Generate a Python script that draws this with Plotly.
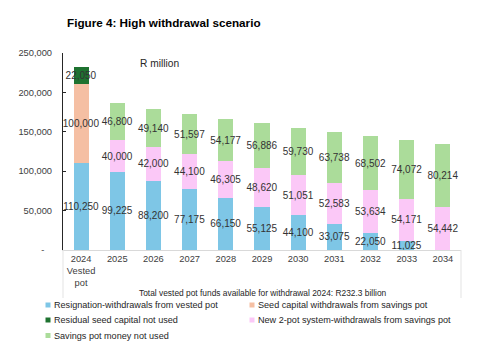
import plotly.graph_objects as go

categories = ["2024<br>Vested<br>pot", "2025", "2026", "2027", "2028", "2029",
              "2030", "2031", "2032", "2033", "2034"]

resignation = [110250, 99225, 88200, 77175, 66150, 55125, 44100, 33075, 22050, 11025, 0]
seed_capital = [100000, None, None, None, None, None, None, None, None, None, None]
residual_seed = [22050, None, None, None, None, None, None, None, None, None, None]
new_two_pot = [None, 40000, 42000, 44100, 46305, 48620, 51051, 52583, 53634, 54171, 54442]
savings_unused = [None, 46800, 49140, 51597, 54177, 56886, 59730, 63738, 68502, 74072, 80214]

y_tickvals = [0, 50000, 100000, 150000, 200000, 250000]
y_ticktext = ["-\u00a0\u00a0\u00a0", "50,000", "100,000", "150,000", "200,000", "250,000"]

series_names = [
    "Resignation-withdrawals from vested pot",
    "Seed capital withdrawals from savings pot",
    "Residual seed capital not used",
    "New 2-pot system-withdrawals from savings pot",
    "Savings pot money not used",
]
series_values = [resignation, seed_capital, residual_seed, new_two_pot, savings_unused]
series_colors = ["#7ec6e6", "#f5bfa3", "#1e7230", "#fbc8f7", "#abdc9a"]

FONT = "Liberation Sans, Arial, sans-serif"

# page offset (default body margin) and target geometry in window pixels
OFF = 8
WIN_W, WIN_H = 484, 361
W, H = WIN_W - OFF, WIN_H - OFF
L, R, T, B = 63, 461, 53, 250   # plot area in window pixels


def px_x(px):
    return (px - L) / (R - L)


def px_y(py):
    return (B - py) / (B - T)


def cx(px):
    return (px - OFF) / W


def cy(py):
    return 1 - (py - OFF) / H


fig = go.Figure()
for name, vals, color in zip(series_names, series_values, series_colors):
    labels = ["" if v is None else (f"{v:,}" if v else "-") for v in vals]
    fig.add_trace(go.Bar(
        name=name, x=categories, y=vals, marker_color=color, marker_line_width=0,
        text=labels, textposition="inside", insidetextanchor="middle",
        textangle=0, constraintext="none",
        textfont=dict(family=FONT, size=10, color="#333333"),
        cliponaxis=False, hoverinfo="skip", showlegend=False,
    ))

# zero-value label ("-") for bars whose blue segment is empty
for cat, v in zip(categories, resignation):
    if v == 0:
        fig.add_annotation(x=cat, y=v, text="-", showarrow=False,
                           yanchor="bottom", yshift=-3,
                           font=dict(family=FONT, size=10, color="#333333"))

fig.update_layout(
    width=W, height=H,
    barmode="stack", bargap=0.585,
    margin=dict(l=L - OFF, r=WIN_W - R, t=T - OFF, b=WIN_H - B, autoexpand=False),
    paper_bgcolor="white", plot_bgcolor="white",
    font=dict(family=FONT, size=10, color="#404040"),
    title=dict(text="<b>Figure 4: High withdrawal scenario</b>",
               x=cx(67), xanchor="left", xref="container",
               y=cy(23), yanchor="middle", yref="container",
               pad=dict(l=0, r=0, t=0, b=0),
               font=dict(family=FONT, size=11.7, color="#000000")),
    showlegend=False,
)

fig.update_xaxes(
    type="category", showline=True, linecolor="#d9d9d9", linewidth=1,
    ticks="", showgrid=False, automargin=False,
    tickfont=dict(family=FONT, size=9.3, color="#404040"),
    range=[-0.5, 10.5],
)
fig.update_yaxes(
    range=[0, 250000], tickvals=y_tickvals, ticktext=y_ticktext,
    showline=True, linecolor="#262626", linewidth=1.3,
    ticks="inside", ticklen=3, tickcolor="#262626", ticklabelstandoff=8,
    showgrid=False, zeroline=False, automargin=False,
    tickfont=dict(family=FONT, size=9.3, color="#404040"),
)

fig.add_annotation(text="R million", xref="paper", yref="paper",
                   x=px_x(159), y=px_y(63), showarrow=False,
                   xanchor="center", yanchor="middle",
                   font=dict(family=FONT, size=10.2, color="#262626"))
fig.add_annotation(text="Total vested pot funds available for withdrawal 2024: R232.3 billion",
                   xref="paper", yref="paper", x=px_x(262.5), y=px_y(293),
                   xanchor="center", yanchor="middle",
                   showarrow=False, font=dict(family=FONT, size=8.4, color="#262626"))

# hand-placed legend in two columns (marker square + text)
legend_slots = [(48, 305), (252, 305), (48, 320), (252, 320), (48, 335.5)]
for name, color, (mx, my) in zip(series_names, series_colors, legend_slots):
    fig.add_shape(type="rect", xref="paper", yref="paper",
                  x0=px_x(mx - 2.5), x1=px_x(mx + 2.5),
                  y0=px_y(my - 2.5), y1=px_y(my + 2.5),
                  fillcolor=color, line=dict(width=0))
    fig.add_annotation(text=name, xref="paper", yref="paper",
                       x=px_x(mx + 3.5), y=px_y(my), xanchor="left", yanchor="middle",
                       showarrow=False, font=dict(family=FONT, size=9.1, color="#262626"))

# faint chart-area frame lines below the axis
fig.add_shape(type="line", xref="paper", yref="paper", x0=0, x1=0, y0=0, y1=px_y(298),
              line=dict(color="#e3e3e3", width=1))
fig.add_shape(type="line", xref="paper", yref="paper", x0=1, x1=1, y0=0, y1=px_y(298),
              line=dict(color="#e3e3e3", width=1))

fig.write_html("out.html")
